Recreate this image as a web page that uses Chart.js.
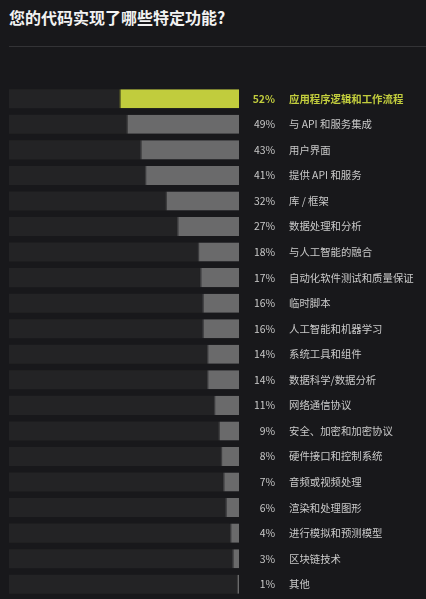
<!DOCTYPE html>
<html>
<head>
<meta charset="utf-8">
<script src="https://cdn.jsdelivr.net/npm/chart.js@4"></script>
<style>
  html, body { margin: 0; padding: 0; background: #18181b; }
  body { width: 426px; height: 599px; position: relative; overflow: hidden;
         font-family: "Noto Sans CJK SC", "Noto Sans", sans-serif; }
  #title { position: absolute; left: 9px; top: 5px; color: #f2f2f2; font-size: 16px; font-weight: bold; }
  #sep { position: absolute; left: 9px; right: 0; top: 46px; height: 1px; background: #333336; }
  #wrap { position: absolute; left: 0; top: 0; width: 426px; height: 599px; }
</style>
</head>
<body>
<div id="title">您的代码实现了哪些特定功能?</div>
<div id="sep"></div>
<div id="wrap"><canvas id="graph"></canvas></div>
<script>
const categories = [
  "应用程序逻辑和工作流程", "与 API 和服务集成", "用户界面", "提供 API 和服务",
  "库 / 框架", "数据处理和分析", "与人工智能的融合", "自动化软件测试和质量保证",
  "临时脚本", "人工智能和机器学习", "系统工具和组件", "数据科学/数据分析",
  "网络通信协议", "安全、加密和加密协议", "硬件接口和控制系统", "音频或视频处理",
  "渲染和处理图形", "进行模拟和预测模型", "区块链技术", "其他"
];
const percents = [52, 49, 43, 41, 32, 27, 18, 17, 16, 16, 14, 14, 11, 9, 8, 7, 6, 4, 3, 1];
const trackValues = categories.map(() => 100);
const highlight = 0;

const yellow = "#c1cc3d";
const gray = "#6a6a6b";

const labelPlugin = {
  id: "sideLabels",
  afterDatasetsDraw(chart) {
    const ctx = chart.ctx;
    const yScale = chart.scales.y;
    ctx.save();
    ctx.textBaseline = "middle";
    categories.forEach((cat, i) => {
      const y = yScale.getPixelForValue(i);
      const hi = i === highlight;
      ctx.fillStyle = hi ? yellow : "#c9c9c9";
      ctx.font = (hi ? "bold " : "") + "10.4px 'Noto Sans CJK SC', sans-serif";
      ctx.textAlign = "right";
      ctx.fillText(percents[i] + "%", 275, y);
      ctx.textAlign = "left";
      ctx.fillText(cat, 289, y);
    });
    ctx.restore();
  }
};

new Chart(document.getElementById("graph"), {
  type: "bar",
  data: {
    labels: categories,
    datasets: [
      {
        data: percents,
        backgroundColor: percents.map((v, i) => i === highlight ? yellow : gray),
        borderColor: percents.map((v, i) => i === highlight ? "#6f7428" : "#3b3b3d"),
        borderWidth: { left: 1.5, top: 0, right: 0, bottom: 0 },
        borderSkipped: false,
        order: 1
      },
      {
        data: trackValues,
        backgroundColor: "#232325",
        borderWidth: 0,
        order: 2
      }
    ]
  },
  options: {
    indexAxis: "y",
    responsive: true,
    maintainAspectRatio: false,
    animation: false,
    layout: { padding: { left: 9, right: 187, top: 86, bottom: 2 } },
    datasets: {
      bar: { grouped: false, categoryPercentage: 1, barPercentage: 0.745 }
    },
    scales: {
      x: { min: 0, max: 100, reverse: true, display: false },
      y: { display: false }
    },
    plugins: { legend: { display: false }, tooltip: { enabled: false } }
  },
  plugins: [labelPlugin]
});
</script>
</body>
</html>
